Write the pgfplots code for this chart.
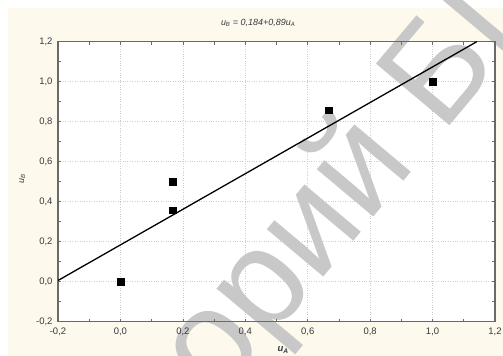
\documentclass[border=0pt]{standalone}
\usepackage{fontspec}
\setmainfont{Liberation Sans}
\usepackage{pgfplots}
\pgfplotsset{compat=1.18}
\definecolor{cream}{RGB}{253,249,237}
\definecolor{wmgray}{RGB}{200,200,200}
\definecolor{axisgray}{RGB}{105,105,105}
\definecolor{gridgray}{RGB}{205,205,205}
\definecolor{labelgray}{RGB}{55,55,65}
\pgfplotsset{
  common/.style={
    at={(58bp,34.3bp)}, anchor=south west,
    scale only axis, width=437bp, height=280bp,
    xmin=-0.2, xmax=1.2, ymin=-0.2, ymax=1.2,
    xtick={-0.2,0,0.2,0.4,0.6,0.8,1.0,1.2},
    ytick={-0.2,0,0.2,0.4,0.6,0.8,1.0,1.2},
  }
}
\begin{document}
\begin{tikzpicture}
\fill[white] (0,0) rectangle (503bp,356bp);
\fill[cream] (8bp,0) rectangle (503bp,348bp);
% background and grid
\begin{axis}[common,
  axis background/.style={fill=white},
  axis line style={draw=none},
  major tick length=0pt, tick style={draw=none},
  xticklabels={}, yticklabels={},
  grid=major,
  major grid style={dotted, draw=gridgray, line width=0.6bp},
]
\end{axis}
% watermark
\begin{scope}
  \clip (0,0) rectangle (503bp,356bp);
  \node[rotate=50, anchor=base west, text=wmgray, font=\fontsize{140}{140}\selectfont, inner sep=0pt]
    at (217.5bp,-47bp) {орий БГУ};
  \node[rotate=50, anchor=base east, text=wmgray, font=\fontsize{140}{140}\selectfont, inner sep=0pt]
    at (217.5bp,-47bp) {Репозит};
\end{scope}
% axis, labels and data
\begin{axis}[common,
  minor tick num=1,
  xtick pos=both, ytick pos=both, tick align=inside,
  major tick length=3bp, minor tick length=3bp,
  tick style={axisgray, line width=0.6bp},
  axis line style={draw=axisgray, line width=1.2bp},
  /pgf/number format/.cd, use comma, fixed, fixed zerofill, precision=1, assume math mode=true,
  /pgfplots/.cd,
  tick label style={text=labelgray, font=\fontsize{9.5}{10}\selectfont},
  xticklabel style={yshift=-3bp},
  yticklabel style={xshift=-2bp},
  title={\itshape u\textsubscript{B} = 0,184+0,89u\textsubscript{A}},
  title style={at={(rel axis cs:0.458,1.045)}, anchor=center, font=\fontsize{9}{10}\selectfont, text=labelgray},
  xlabel={\bfseries\itshape u\textsubscript{A}},
  xlabel style={at={(rel axis cs:0.515,-0.101)}, anchor=center, font=\fontsize{9.5}{10}\selectfont, text=labelgray},
  ylabel={\itshape u\textsubscript{B}},
  ylabel style={at={(rel axis cs:-0.082,0.51)}, anchor=center, font=\fontsize{9}{10}\selectfont, text=labelgray},
]
\addplot[black, line width=1.3bp] coordinates {(-0.2,0.006) (1.1416,1.2)};
\addplot[only marks, mark=square*, mark size=3.3bp, black] coordinates {
  (0,0) (0.1667,0.5) (0.1667,0.357) (0.6667,0.857) (1,1)};
\end{axis}
\pgfresetboundingbox
\path[use as bounding box] (0,0) rectangle (503bp,356bp);
\end{tikzpicture}
\end{document}
